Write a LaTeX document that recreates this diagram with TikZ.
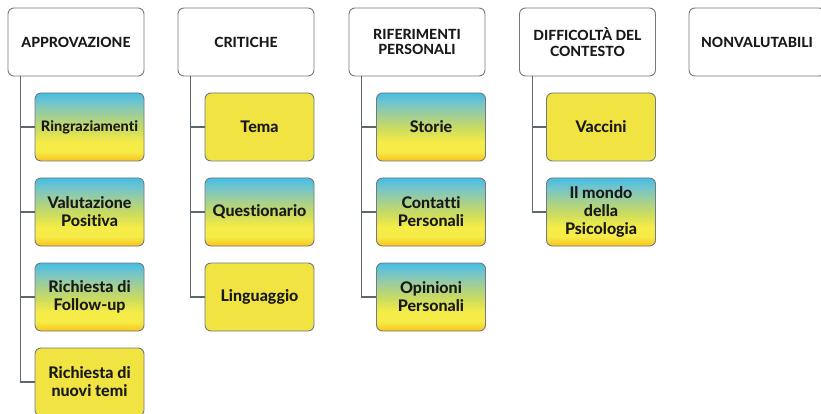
\documentclass[tikz,border=0pt]{standalone}
\usepackage{fontspec}
\setmainfont{Lato}[BoldFont={Lato Heavy}, Ligatures=NoCommon]
\usepackage{xcolor}
\usepackage{tikz}
\usetikzlibrary{positioning}

\definecolor{edgegray}{RGB}{112,122,128}
\definecolor{linegray}{RGB}{92,104,110}
\definecolor{boxyellow}{RGB}{240,227,66}
\definecolor{topcyan}{RGB}{70,190,230}
\definecolor{tealgreen}{RGB}{120,198,198}
\definecolor{palegreen}{RGB}{165,208,145}
\definecolor{midgreen}{RGB}{202,219,95}
\definecolor{brightyellow}{RGB}{245,236,72}
\definecolor{baseorange}{RGB}{252,194,26}
\pgfdeclareverticalshading{skyfill}{100bp}{color(0bp)=(baseorange); color(25bp)=(baseorange);
    color(32bp)=(brightyellow); color(39bp)=(brightyellow); color(49bp)=(midgreen);
    color(58bp)=(palegreen); color(67bp)=(tealgreen); color(75bp)=(topcyan); color(100bp)=(topcyan)}

\begin{document}
\begin{tikzpicture}[
        x=1pt, y=-1pt,
        head/.style={rectangle, draw=edgegray, line width=0.9pt, fill=white, rounded corners=6pt,
            minimum width=136pt, minimum height=68pt, align=center, inner sep=2pt,
            font=\fontsize{14}{15.5}\selectfont\bfseries, text=black!90},
        item/.style={rectangle, draw=edgegray, line width=0.9pt, fill=boxyellow, rounded corners=6pt,
            minimum width=109pt, minimum height=68pt, align=center, inner sep=2pt,
            font=\fontsize{16}{18}\selectfont\bfseries, text=black!90},
        gitem/.style={item, shading=skyfill},
        link/.style={draw=linegray, line width=1.1pt}
    ]
    \clip (0,0) rectangle (821,414);

    \node[head]  (appr)   at (76,42)    {APPROVAZIONE};
    \node[head]  (crit)   at (246,42)   {CRITICHE};
    \node[head]  (rifp)   at (417,42)   {RIFERIMENTI\\PERSONALI};
    \node[head]  (diff)   at (587.5,42) {DIFFICOLTÀ DEL\\CONTESTO};
    \node[head]  (nonv)   at (757,42)   {NONVALUTABILI};

    \node[gitem, font=\fontsize{14.5}{16}\selectfont\bfseries] (ringr) at (89.5,127) {Ringraziamenti};
    \node[gitem] (valpos) at (89.5,212) {Valutazione\\Positiva};
    \node[gitem] (follow) at (89.5,297) {Richiesta di\\Follow-up};
    \node[item]  (nuovi)  at (89.5,382) {Richiesta di\\nuovi temi};

    \node[item]  (tema)   at (259.5,127) {Tema};
    \node[gitem] (quest)  at (259.5,212) {Questionario};
    \node[item]  (lingua) at (259.5,297) {Linguaggio};

    \node[gitem] (storie) at (431,127) {Storie};
    \node[gitem] (contat) at (431,212) {Contatti\\Personali};
    \node[gitem] (opin)   at (431,297) {Opinioni\\Personali};

    \node[item]  (vacc)   at (601,127) {Vaccini};
    \node[gitem] (psico)  at (601,212) {Il mondo\\della\\Psicologia};

    \draw[link] ([xshift=13pt]appr.south west) |- (ringr.west);
    \draw[link] ([xshift=13pt]appr.south west) |- (valpos.west);
    \draw[link] ([xshift=13pt]appr.south west) |- (follow.west);
    \draw[link] ([xshift=13pt]appr.south west) |- (nuovi.west);

    \draw[link] ([xshift=13pt]crit.south west) |- (tema.west);
    \draw[link] ([xshift=13pt]crit.south west) |- (quest.west);
    \draw[link] ([xshift=13pt]crit.south west) |- (lingua.west);

    \draw[link] ([xshift=13pt]rifp.south west) |- (storie.west);
    \draw[link] ([xshift=13pt]rifp.south west) |- (contat.west);
    \draw[link] ([xshift=13pt]rifp.south west) |- (opin.west);

    \draw[link] ([xshift=13pt]diff.south west) |- (vacc.west);
    \draw[link] ([xshift=13pt]diff.south west) |- (psico.west);
\end{tikzpicture}
\end{document}
